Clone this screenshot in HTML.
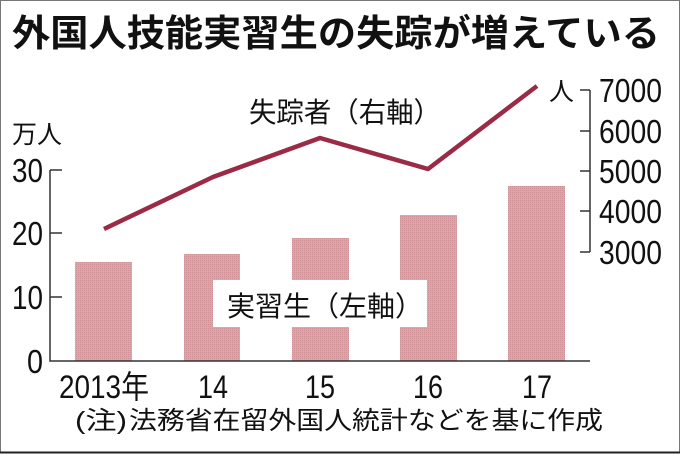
<!DOCTYPE html>
<html><head><meta charset="utf-8"><style>
html,body{margin:0;padding:0;background:#fff}
svg{display:block}
text{font-family:"Liberation Sans","Noto Sans CJK JP",sans-serif;fill:#111}
</style></head><body>
<svg width="680" height="454" viewBox="0 0 680 454">
<defs>
<pattern id="p" width="2" height="2" patternUnits="userSpaceOnUse">
<rect width="2" height="2" fill="#dba6aa"/><rect width="1" height="1" fill="#cf9096"/>
</pattern>
</defs>
<rect x="0.5" y="0.5" width="679" height="452" fill="#fff" stroke="#777" stroke-width="1"/>
<line x1="0" y1="452.5" x2="680" y2="452.5" stroke="#222" stroke-width="2"/>
<text x="12" y="46" font-size="37" font-weight="bold" textLength="648" lengthAdjust="spacingAndGlyphs">外国人技能実習生の失踪が増えている</text>
<rect x="75" y="262" width="57" height="99" fill="url(#p)"/>
<rect x="184" y="254" width="56" height="107" fill="url(#p)"/>
<rect x="292" y="238" width="57" height="123" fill="url(#p)"/>
<rect x="400" y="215" width="57" height="146" fill="url(#p)"/>
<rect x="508" y="186" width="57" height="175" fill="url(#p)"/>
<rect x="213" y="280" width="214" height="47" fill="#fff"/>
<text x="227" y="316" font-size="28" textLength="196" lengthAdjust="spacingAndGlyphs">実習生（左軸）</text>
<path d="M50,170V361H590M50,170h12M50,233h12M50,297h12" fill="none" stroke="#333" stroke-width="1.5"/>
<text x="12" y="143" font-size="25">万人</text>
<g font-size="33" text-anchor="end">
<text x="43" y="182" textLength="31" lengthAdjust="spacingAndGlyphs">30</text>
<text x="43" y="245" textLength="31" lengthAdjust="spacingAndGlyphs">20</text>
<text x="43" y="309" textLength="31" lengthAdjust="spacingAndGlyphs">10</text>
<text x="43" y="373" textLength="16" lengthAdjust="spacingAndGlyphs">0</text>
</g>
<path d="M590,90V252M580,90h10M580,131h10M580,171h10M580,211h10M580,252h10" fill="none" stroke="#333" stroke-width="1.5"/>
<g font-size="33">
<text x="599" y="102" textLength="63" lengthAdjust="spacingAndGlyphs">7000</text>
<text x="599" y="143" textLength="63" lengthAdjust="spacingAndGlyphs">6000</text>
<text x="599" y="183" textLength="63" lengthAdjust="spacingAndGlyphs">5000</text>
<text x="599" y="223" textLength="63" lengthAdjust="spacingAndGlyphs">4000</text>
<text x="599" y="264" textLength="63" lengthAdjust="spacingAndGlyphs">3000</text>
</g>
<text x="549" y="100" font-size="25">人</text>
<polyline points="104,229 213,177 320,138 428,169 537,86" fill="none" stroke="#9a2a45" stroke-width="4.5" stroke-linejoin="round"/>
<text x="249" y="122" font-size="28" textLength="192" lengthAdjust="spacingAndGlyphs">失踪者（右軸）</text>
<g font-size="32" text-anchor="middle">
<text x="104" y="398" textLength="90" lengthAdjust="spacingAndGlyphs">2013年</text>
<text x="213" y="398" textLength="30" lengthAdjust="spacingAndGlyphs">14</text>
<text x="320" y="398" textLength="30" lengthAdjust="spacingAndGlyphs">15</text>
<text x="428" y="398" textLength="30" lengthAdjust="spacingAndGlyphs">16</text>
<text x="537" y="398" textLength="30" lengthAdjust="spacingAndGlyphs">17</text>
</g>
<text x="75" y="429" font-size="25" textLength="52" lengthAdjust="spacingAndGlyphs">(注)</text>
<text x="129" y="429" font-size="25" textLength="474" lengthAdjust="spacingAndGlyphs">法務省在留外国人統計などを基に作成</text>
</svg>
</body></html>
